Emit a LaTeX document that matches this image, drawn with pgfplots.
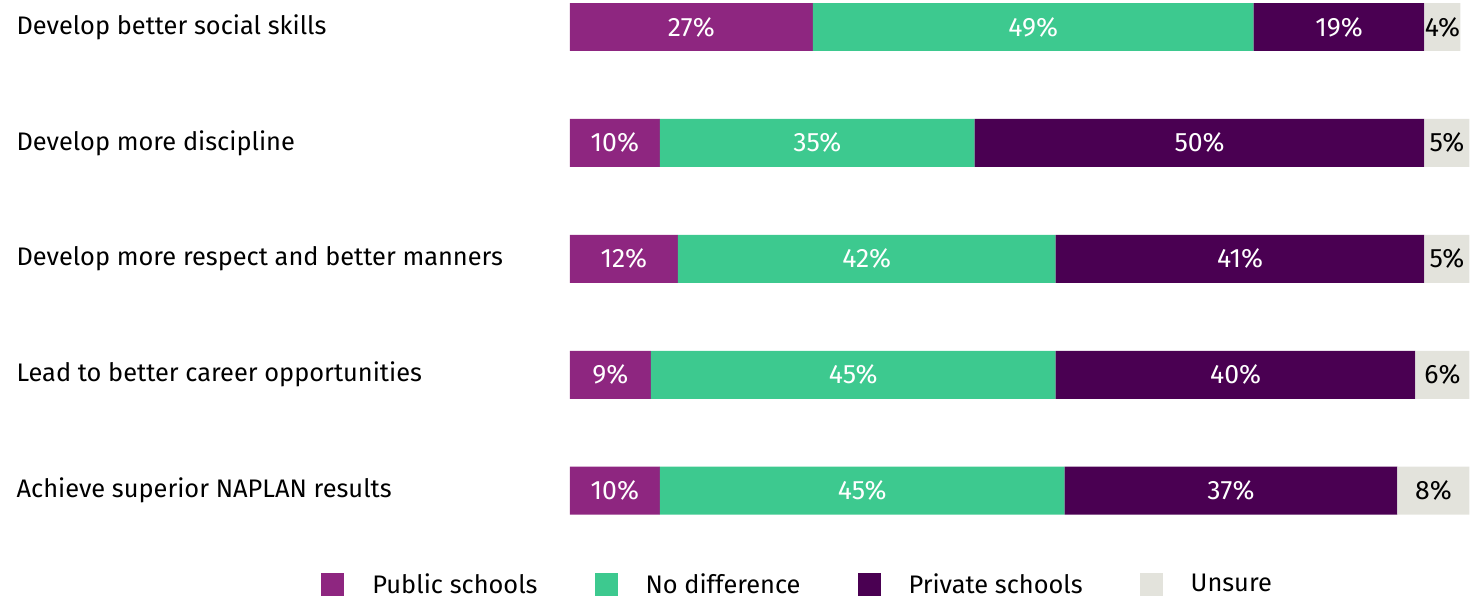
\documentclass[border=0pt]{standalone}
\usepackage{pgfplots}
\pgfplotsset{compat=1.18}
\usepackage{fontspec}
\setmainfont{Fira Sans}
\definecolor{cpub}{RGB}{142,38,128}
\definecolor{cnod}{RGB}{61,201,143}
\definecolor{cpri}{RGB}{74,0,82}
\definecolor{cuns}{RGB}{227,227,220}
\begin{document}
\begin{tikzpicture}
\begin{axis}[
  width=735.5pt, height=300pt, scale only axis,
  xmin=-63.333, xmax=100.111,
  ymin=-0.2328, ymax=4.94, y dir=reverse,
  axis line style={draw=none},
  major tick length=0pt,
  xtick=\empty,
  ytick={0,1,2,3,4},
  yticklabels={Develop better social skills, Develop more discipline, Develop more respect and better manners, Lead to better career opportunities, Achieve superior NAPLAN results},
  yticklabel style={anchor=west, xshift=8pt, inner sep=0pt, font=\fontsize{12.7}{14}\selectfont},
  clip=false,
  bar width=24pt,
  legend image code/.code={\fill[#1] (0pt,-5.75pt) rectangle (11.5pt,5.75pt);},
  legend columns=4,
  legend style={at={(rel axis cs:0.2182,0.025)}, anchor=west, draw=none, fill=none,
    inner sep=0pt, font=\fontsize{12.7}{14}\selectfont,
    nodes={inner sep=0pt},
    /tikz/every odd column/.append style={column sep=14pt},
    /tikz/every even column/.append style={column sep=28.5pt}},
]
\addplot[xbar, stack plots=x, fill=cpub, draw=none] coordinates {(27,0) (10,1) (12,2) (9,3) (10,4)};
\addlegendentry{Public schools}
\addplot[xbar, stack plots=x, fill=cnod, draw=none] coordinates {(49,0) (35,1) (42,2) (45,3) (45,4)};
\addlegendentry{No difference}
\addplot[xbar, stack plots=x, fill=cpri, draw=none] coordinates {(19,0) (50,1) (41,2) (40,3) (37,4)};
\addlegendentry{Private schools}
\addplot[xbar, stack plots=x, fill=cuns, draw=none] coordinates {(4,0) (5,1) (5,2) (6,3) (8,4)};
\addlegendentry{Unsure}
% labels (segment centres)
\addplot[forget plot, stack plots=false, draw=none, mark=none, nodes near coords, point meta=explicit symbolic,
  every node near coord/.append style={anchor=center, text=white, font=\fontsize{13.3}{14}\selectfont}]
  coordinates {(13.5,0) [27\%] (5,1) [10\%] (6,2) [12\%] (4.5,3) [9\%] (5,4) [10\%]
               (51.5,0) [49\%] (27.5,1) [35\%] (33,2) [42\%] (31.5,3) [45\%] (32.5,4) [45\%]};
\addplot[forget plot, stack plots=false, draw=none, mark=none, nodes near coords, point meta=explicit symbolic,
  every node near coord/.append style={anchor=center, text=white, font=\fontsize{13.3}{14}\selectfont}]
  coordinates {(85.5,0) [19\%] (70,1) [50\%] (74.5,2) [41\%] (74,3) [40\%] (73.5,4) [37\%]};
\addplot[forget plot, stack plots=false, draw=none, mark=none, nodes near coords, point meta=explicit symbolic,
  every node near coord/.append style={anchor=center, text=black, font=\fontsize{13.3}{14}\selectfont}]
  coordinates {(97,0) [4\%] (97.5,1) [5\%] (97.5,2) [5\%] (97,3) [6\%] (96,4) [8\%]};
\end{axis}
\end{tikzpicture}
\end{document}
